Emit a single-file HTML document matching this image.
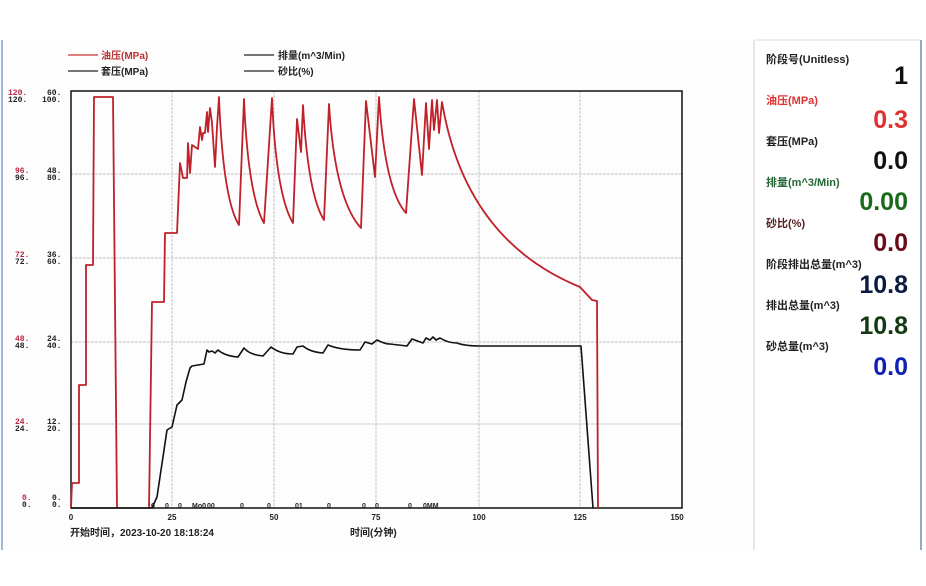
<!DOCTYPE html>
<html><head><meta charset="utf-8"><style>
html,body{margin:0;padding:0;background:#fff;}
body{width:926px;height:586px;overflow:hidden;position:relative;font-family:"Liberation Sans","Noto Sans CJK SC",sans-serif;}
svg{position:absolute;left:0;top:0;}
</style></head><body>
<svg width="926" height="586" viewBox="0 0 926 586" xmlns="http://www.w3.org/2000/svg" font-family="Liberation Sans, Noto Sans CJK SC, sans-serif">
<rect x="0" y="0" width="926" height="586" fill="#fff"/>
<rect x="0" y="40" width="752" height="510" fill="#fdfdfd"/>
<line x1="754" y1="40" x2="754" y2="550" stroke="#ccc" stroke-width="1"/>
<line x1="754" y1="40" x2="921" y2="40" stroke="#ddd"/>
<line x1="921" y1="40" x2="921" y2="550" stroke="#9ab" stroke-width="2"/>
<line x1="2" y1="40" x2="2" y2="550" stroke="#9bd" stroke-width="2"/>

<!-- legend -->
<g font-size="10" font-weight="bold">
<line x1="68" y1="55" x2="98" y2="55" stroke="#c33" stroke-width="1.2"/>
<text x="101" y="59" fill="#b33">油压(MPa)</text>
<line x1="68" y1="71" x2="98" y2="71" stroke="#222" stroke-width="1.2"/>
<text x="101" y="75" fill="#222">套压(MPa)</text>
<line x1="244" y1="55" x2="274" y2="55" stroke="#222" stroke-width="1.2"/>
<text x="278" y="59" fill="#222">排量(m^3/Min)</text>
<line x1="244" y1="71" x2="274" y2="71" stroke="#222" stroke-width="1.2"/>
<text x="278" y="75" fill="#222">砂比(%)</text>
</g>

<!-- grid -->
<g stroke="#c4c4c4" stroke-width="1" stroke-dasharray="3,1">
<line x1="71" y1="174" x2="682" y2="174"/>
<line x1="71" y1="258" x2="682" y2="258"/>
<line x1="71" y1="342" x2="682" y2="342"/>
<line x1="71" y1="424" x2="682" y2="424"/>
<line x1="172" y1="91" x2="172" y2="508"/>
<line x1="274" y1="91" x2="274" y2="508"/>
<line x1="376" y1="91" x2="376" y2="508"/>
<line x1="479" y1="91" x2="479" y2="508"/>
<line x1="580" y1="91" x2="580" y2="508"/>
</g>
<rect x="71" y="91" width="611" height="417" fill="none" stroke="#111" stroke-width="1.5"/>

<!-- y labels -->
<g font-family="Liberation Mono, monospace" font-size="8" font-weight="bold">
<g fill="#b24">
<text x="8" y="95">120.</text><text x="15" y="173">96.</text><text x="15" y="257">72.</text><text x="15" y="341">48.</text><text x="15" y="424">24.</text><text x="22" y="500">0.</text>
</g>
<g fill="#222">
<text x="8" y="102">120.</text><text x="15" y="180">96.</text><text x="15" y="264">72.</text><text x="15" y="348">48.</text><text x="15" y="431">24.</text><text x="22" y="507">0.</text>
<text x="47" y="95">60.</text><text x="47" y="173">48.</text><text x="47" y="257">36.</text><text x="47" y="341">24.</text><text x="47" y="424">12.</text><text x="52" y="500">0.</text>
<text x="42" y="102">100.</text><text x="47" y="180">80.</text><text x="47" y="264">60.</text><text x="47" y="348">40.</text><text x="47" y="431">20.</text><text x="52" y="507">0.</text>
</g>
</g>

<!-- x labels -->
<g font-size="8" font-weight="bold" fill="#222" text-anchor="middle">
<text x="71" y="520">0</text><text x="172" y="520">25</text><text x="274" y="520">50</text><text x="376" y="520">75</text><text x="479" y="520">100</text><text x="580" y="520">125</text><text x="677" y="520">150</text>
</g>
<text x="70" y="536" font-size="10" font-weight="bold" fill="#222">开始时间，2023-10-20 18:18:24</text>
<text x="350" y="536" font-size="10" font-weight="bold" fill="#222">时间(分钟)</text>

<!-- bottom markers -->
<g font-size="7" font-weight="bold" fill="#222">
<text x="151" y="508">0</text><text x="165" y="508">0</text><text x="178" y="508">0</text><text x="192" y="508">Mo0</text><text x="207" y="508">00</text><text x="240" y="508">0</text><text x="267" y="508">0</text><text x="295" y="508">01</text><text x="327" y="508">0</text><text x="362" y="508">0</text><text x="375" y="508">0</text><text x="408" y="508">0</text><text x="423" y="508">0MM</text>
</g>

<!-- red oil pressure -->
<path fill="none" stroke="#c0202a" stroke-width="1.8" stroke-linejoin="round" d="
M71,508 L72,483 L79,483 L79,385 L86,385 L86,265 L93,265 L94,97 L113,97 L117,508
M149,508 L152,302 L164,302 L165,233 L177,233 L180,163 L183,178 L187,178 L188,143 L190,173 L192,145 L198,149 L200,127 L202,140 L203,133 L205,133 L207,112 L208,132 L210,108 L212,123 L215,167 L217,127 L219,97
Q223,200 239,225 L244,99
Q248,195 264,223 L272,98
Q276,195 293,223 L297,119 L301,152 L303,105
Q308,195 324,220 L329,104
Q335,200 361,228 L366,101 L375,177 L379,97
Q385,190 406,213 L414,99 L422,175 L426,103 L429,149 L432,100 L434,130 L437,100 L439,133 L442,102
Q465,240 580,287 L592,300 L597,301 L598,508"/>

<!-- black casing pressure -->
<path fill="none" stroke="#111" stroke-width="1.6" stroke-linejoin="round" d="
M71,508 L152,508 L157,497 L167,430 L172,427 L177,405 L182,400 L186,382 L190,368 L192,366 L204,364 L207,350 L209,352 L212,351 L215,353 L218,350
Q225,356 238,357 L244,348 Q250,355 263,356 L271,347 Q280,354 293,354 L297,347 L303,346 Q310,352 323,353 L328,345 Q340,350 360,350 L365,342 L372,344 L377,340 Q385,344 390,344 L407,346 L412,339 L423,343 L426,338 L430,340 L433,337 L436,340 L440,338 Q448,343 457,343 Q465,346 480,346 L581,346 L593,508"/>

<!-- right panel -->
<g font-weight="bold">
<text x="766" y="63" font-size="11" fill="#222">阶段号(Unitless)</text>
<text x="908" y="84" font-size="25" fill="#111" text-anchor="end">1</text>
<text x="766" y="104" font-size="11" fill="#d33">油压(MPa)</text>
<text x="908" y="128" font-size="25" fill="#e03030" text-anchor="end">0.3</text>
<text x="766" y="145" font-size="11" fill="#222">套压(MPa)</text>
<text x="908" y="169" font-size="25" fill="#111" text-anchor="end">0.0</text>
<text x="766" y="186" font-size="11" fill="#263">排量(m^3/Min)</text>
<text x="908" y="210" font-size="25" fill="#1a6a1a" text-anchor="end">0.00</text>
<text x="766" y="227" font-size="11" fill="#522">砂比(%)</text>
<text x="908" y="251" font-size="25" fill="#6a0a1a" text-anchor="end">0.0</text>
<text x="766" y="268" font-size="11" fill="#222">阶段排出总量(m^3)</text>
<text x="908" y="293" font-size="25" fill="#0a1a40" text-anchor="end">10.8</text>
<text x="766" y="309" font-size="11" fill="#222">排出总量(m^3)</text>
<text x="908" y="334" font-size="25" fill="#123a12" text-anchor="end">10.8</text>
<text x="766" y="350" font-size="11" fill="#222">砂总量(m^3)</text>
<text x="908" y="375" font-size="25" fill="#1020b0" text-anchor="end">0.0</text>
</g>
</svg>
</body></html>
